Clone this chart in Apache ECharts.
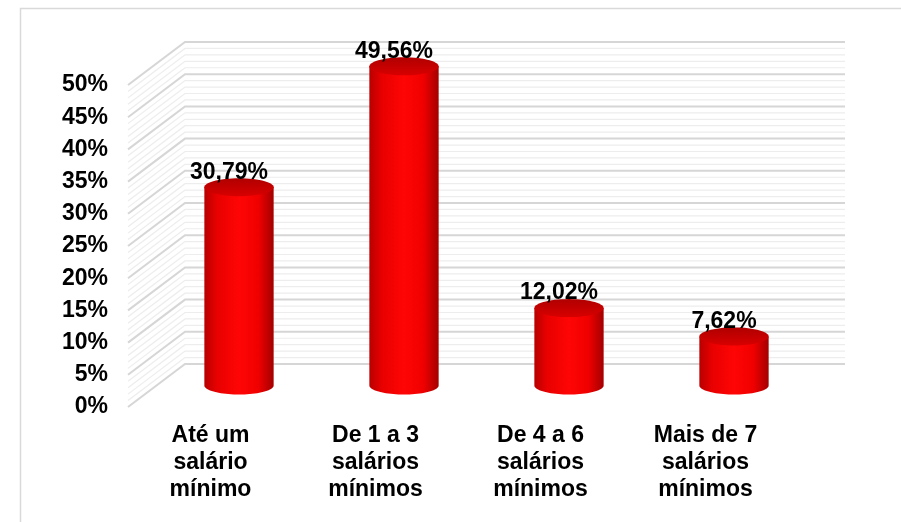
<!DOCTYPE html>
<html>
<head>
<meta charset="utf-8">
<script src="https://cdn.jsdelivr.net/npm/echarts@6/dist/echarts.min.js"></script>
<style>
  html, body { margin: 0; padding: 0; background: #fff; }
  #chart { width: 901px; height: 522px; }
</style>
</head>
<body>
<div id="chart"></div>
<script>
// data
const categories = [
  'Até um\nsalário\nmínimo',
  'De 1 a 3\nsalários\nmínimos',
  'De 4 a 6\nsalários\nmínimos',
  'Mais de 7\nsalários\nmínimos'
];
const values = [30.79, 49.56, 12.02, 7.62];
const yMax = 50;
const yStep = 5;

// depth of the fake 3d box (front plane -> back wall)
const DEPTH_X = 57;
const DEPTH_Y = -43;
const FONT = "'Liberation Sans', Arial, sans-serif";

const chart = echarts.init(document.getElementById('chart'));

function ellipsePoints (cx, cy, rx, ry, from, to, n) {
  const pts = [];
  for (let i = 0; i <= n; i++) {
    const a = from + (to - from) * i / n;
    pts.push([cx + rx * Math.cos(a), cy + ry * Math.sin(a)]);
  }
  return pts;
}

// back wall + left side wall, one line per 1%
function renderWalls (params, api) {
  const band = api.size([1, 0])[0];
  const x0 = api.coord([0, 0])[0] - band / 2;
  const x1 = api.coord([categories.length - 1, 0])[0] + band / 2;
  const children = [];
  for (let v = 0; v <= yMax; v++) {
    const y = api.coord([0, v])[1];
    const major = v % yStep === 0;
    children.push({
      type: 'polyline',
      z2: major ? 2 : 1,
      shape: { points: [[x0, y], [x0 + DEPTH_X, y + DEPTH_Y], [x1 + DEPTH_X, y + DEPTH_Y]] },
      style: { fill: null, stroke: major ? '#d6d6d6' : '#ededed', lineWidth: major ? 2 : 1.2 }
    });
  }
  return { type: 'group', children: children };
}

function renderCylinder (params, api) {
  const cat = api.value(0);
  const val = api.value(1);
  const band = api.size([1, 0])[0];
  const base = api.coord([cat, 0]);
  const top = api.coord([cat, val]);
  const cx = base[0] + DEPTH_X / 2;
  const yb = base[1] + DEPTH_Y / 2;
  const yt = top[1] + DEPTH_Y / 2;
  const rx = band * 0.21;
  const ry = rx * 0.26;

  const body = [[cx - rx, yt]]
    .concat(ellipsePoints(cx, yb, rx, ry, Math.PI, 0, 40))
    .concat([[cx + rx, yt]]);
  const cap = ellipsePoints(cx, yt, rx, ry, 0, Math.PI * 2, 60);
  const text = val.toFixed(2).replace('.', ',') + '%';

  return {
    type: 'group',
    children: [
      {
        type: 'polygon',
        shape: { points: body },
        style: {
          fill: {
            type: 'linear', x: 0, y: 0, x2: 1, y2: 0,
            colorStops: [
              { offset: 0, color: '#b80000' },
              { offset: 0.18, color: '#e80000' },
              { offset: 0.5, color: '#ff0505' },
              { offset: 0.78, color: '#f00000' },
              { offset: 1, color: '#a40000' }
            ]
          },
          stroke: null
        }
      },
      {
        type: 'polygon',
        shape: { points: cap },
        style: {
          fill: {
            type: 'linear', x: 0, y: 0, x2: 0, y2: 1,
            colorStops: [
              { offset: 0, color: '#b00000' },
              { offset: 1, color: '#d80000' }
            ]
          },
          stroke: null
        }
      },
      {
        type: 'text',
        x: cx - 10,
        y: yt - 15,
        style: {
          text: text,
          fill: '#000',
          font: 'bold 23px ' + FONT,
          align: 'center',
          verticalAlign: 'middle'
        }
      }
    ]
  };
}

const option = {
  animation: false,
  backgroundColor: '#fff',
  graphic: [{
    type: 'rect',
    left: 18, top: 6,
    shape: { width: 900, height: 530 },
    style: { fill: null, stroke: '#d9d9d9', lineWidth: 1.5 },
    silent: true
  }],
  grid: { left: 128, top: 85, width: 660, height: 322 },
  xAxis: {
    type: 'category',
    data: categories,
    axisLine: { show: false },
    axisTick: { show: false },
    axisLabel: {
      interval: 0,
      color: '#000',
      fontFamily: FONT,
      fontWeight: 'bold',
      fontSize: 23,
      lineHeight: 27,
      margin: 15
    }
  },
  yAxis: {
    type: 'value',
    min: 0,
    max: yMax,
    interval: yStep,
    axisLine: { show: false },
    axisTick: { show: false },
    splitLine: { show: false },
    axisLabel: {
      formatter: '{value}%',
      color: '#000',
      fontFamily: FONT,
      fontWeight: 'bold',
      fontSize: 23,
      margin: 20
    }
  },
  series: [
    {
      type: 'custom',
      clip: false,
      silent: true,
      z: 1,
      data: [[0, 0]],
      renderItem: renderWalls
    },
    {
      type: 'custom',
      clip: false,
      z: 3,
      data: values.map(function (v, i) { return [i, v]; }),
      encode: { x: 0, y: 1 },
      renderItem: renderCylinder
    }
  ]
};

chart.setOption(option);
</script>
</body>
</html>
